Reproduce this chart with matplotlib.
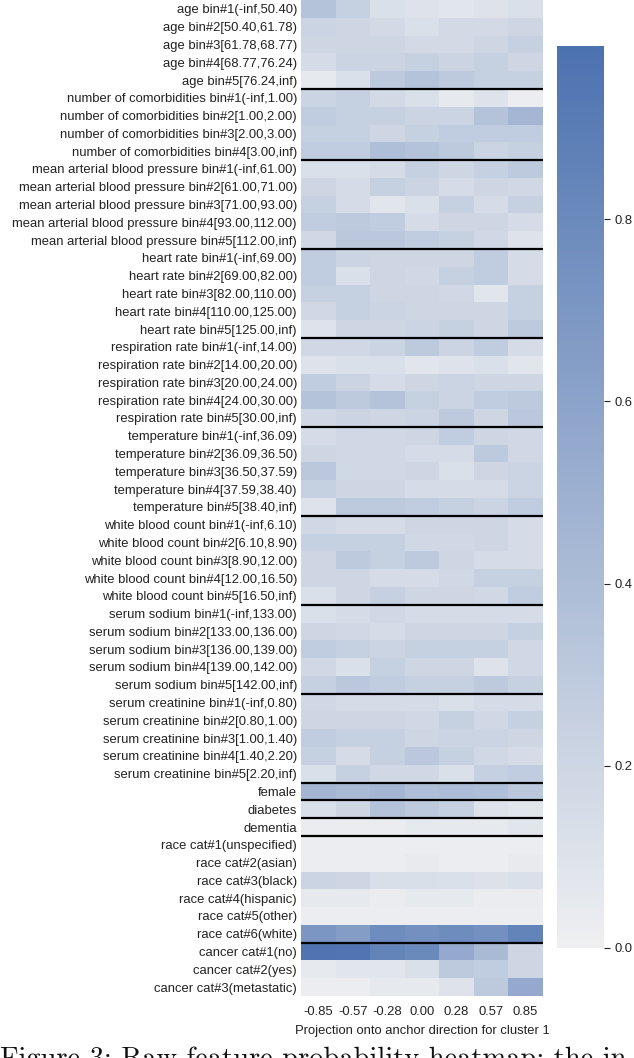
import numpy as np
import matplotlib
matplotlib.use("Agg")
import matplotlib.pyplot as plt
from matplotlib.colors import LinearSegmentedColormap

row_labels = [
    "age bin#1(-inf,50.40)", "age bin#2[50.40,61.78)", "age bin#3[61.78,68.77)",
    "age bin#4[68.77,76.24)", "age bin#5[76.24,inf)",
    "number of comorbidities bin#1(-inf,1.00)", "number of comorbidities bin#2[1.00,2.00)",
    "number of comorbidities bin#3[2.00,3.00)", "number of comorbidities bin#4[3.00,inf)",
    "mean arterial blood pressure bin#1(-inf,61.00)", "mean arterial blood pressure bin#2[61.00,71.00)",
    "mean arterial blood pressure bin#3[71.00,93.00)", "mean arterial blood pressure bin#4[93.00,112.00)",
    "mean arterial blood pressure bin#5[112.00,inf)",
    "heart rate bin#1(-inf,69.00)", "heart rate bin#2[69.00,82.00)", "heart rate bin#3[82.00,110.00)",
    "heart rate bin#4[110.00,125.00)", "heart rate bin#5[125.00,inf)",
    "respiration rate bin#1(-inf,14.00)", "respiration rate bin#2[14.00,20.00)",
    "respiration rate bin#3[20.00,24.00)", "respiration rate bin#4[24.00,30.00)",
    "respiration rate bin#5[30.00,inf)",
    "temperature bin#1(-inf,36.09)", "temperature bin#2[36.09,36.50)", "temperature bin#3[36.50,37.59)",
    "temperature bin#4[37.59,38.40)", "temperature bin#5[38.40,inf)",
    "white blood count bin#1(-inf,6.10)", "white blood count bin#2[6.10,8.90)",
    "white blood count bin#3[8.90,12.00)", "white blood count bin#4[12.00,16.50)",
    "white blood count bin#5[16.50,inf)",
    "serum sodium bin#1(-inf,133.00)", "serum sodium bin#2[133.00,136.00)",
    "serum sodium bin#3[136.00,139.00)", "serum sodium bin#4[139.00,142.00)",
    "serum sodium bin#5[142.00,inf)",
    "serum creatinine bin#1(-inf,0.80)", "serum creatinine bin#2[0.80,1.00)",
    "serum creatinine bin#3[1.00,1.40)", "serum creatinine bin#4[1.40,2.20)",
    "serum creatinine bin#5[2.20,inf)",
    "female", "diabetes", "dementia",
    "race cat#1(unspecified)", "race cat#2(asian)", "race cat#3(black)",
    "race cat#4(hispanic)", "race cat#5(other)", "race cat#6(white)",
    "cancer cat#1(no)", "cancer cat#2(yes)", "cancer cat#3(metastatic)",
]

col_labels = ["-0.85", "-0.57", "-0.28", "0.00", "0.28", "0.57", "0.85"]

# group boundaries (row index after which a separating line is drawn)
group_breaks = [5, 9, 14, 19, 24, 29, 34, 39, 44, 45, 46, 47, 53]

age = [
    [0.35, 0.25, 0.12, 0.10, 0.08, 0.10, 0.12],
    [0.22, 0.20, 0.17, 0.12, 0.17, 0.17, 0.20],
    [0.20, 0.20, 0.20, 0.17, 0.17, 0.20, 0.25],
    [0.15, 0.22, 0.22, 0.25, 0.22, 0.25, 0.20],
    [0.05, 0.12, 0.30, 0.35, 0.30, 0.25, 0.25],
]
comorbidities = [
    [0.22, 0.25, 0.17, 0.12, 0.05, 0.10, 0.02],
    [0.28, 0.25, 0.25, 0.22, 0.22, 0.35, 0.45],
    [0.25, 0.25, 0.20, 0.25, 0.28, 0.28, 0.28],
    [0.28, 0.28, 0.38, 0.35, 0.30, 0.22, 0.25],
]
map_bp = [
    [0.12, 0.12, 0.15, 0.25, 0.20, 0.25, 0.30],
    [0.20, 0.15, 0.25, 0.22, 0.15, 0.20, 0.18],
    [0.25, 0.15, 0.08, 0.12, 0.25, 0.15, 0.25],
    [0.28, 0.30, 0.28, 0.15, 0.20, 0.20, 0.15],
    [0.18, 0.32, 0.32, 0.28, 0.25, 0.18, 0.10],
]
heart_rate = [
    [0.28, 0.22, 0.20, 0.20, 0.20, 0.28, 0.15],
    [0.28, 0.12, 0.20, 0.18, 0.25, 0.28, 0.15],
    [0.25, 0.25, 0.20, 0.20, 0.18, 0.08, 0.25],
    [0.18, 0.25, 0.22, 0.20, 0.20, 0.20, 0.25],
    [0.10, 0.20, 0.20, 0.22, 0.25, 0.20, 0.30],
]
resp_rate = [
    [0.18, 0.18, 0.22, 0.30, 0.22, 0.28, 0.15],
    [0.10, 0.12, 0.12, 0.08, 0.10, 0.12, 0.08],
    [0.28, 0.22, 0.15, 0.20, 0.22, 0.20, 0.20],
    [0.35, 0.30, 0.35, 0.25, 0.22, 0.28, 0.30],
    [0.18, 0.22, 0.20, 0.22, 0.30, 0.20, 0.32],
]
temperature = [
    [0.15, 0.18, 0.18, 0.20, 0.28, 0.20, 0.18],
    [0.20, 0.18, 0.18, 0.15, 0.15, 0.30, 0.18],
    [0.32, 0.18, 0.18, 0.20, 0.12, 0.20, 0.22],
    [0.25, 0.20, 0.20, 0.15, 0.15, 0.15, 0.22],
    [0.10, 0.30, 0.30, 0.28, 0.25, 0.22, 0.28],
]
wbc = [
    [0.18, 0.15, 0.15, 0.20, 0.20, 0.20, 0.15],
    [0.25, 0.25, 0.25, 0.18, 0.18, 0.20, 0.15],
    [0.20, 0.30, 0.25, 0.30, 0.20, 0.15, 0.15],
    [0.20, 0.20, 0.15, 0.15, 0.18, 0.25, 0.25],
    [0.12, 0.20, 0.25, 0.20, 0.20, 0.18, 0.28],
]
sodium = [
    [0.12, 0.15, 0.18, 0.15, 0.15, 0.15, 0.15],
    [0.20, 0.18, 0.15, 0.20, 0.20, 0.20, 0.25],
    [0.28, 0.25, 0.22, 0.25, 0.25, 0.25, 0.18],
    [0.18, 0.12, 0.25, 0.20, 0.20, 0.10, 0.18],
    [0.25, 0.32, 0.28, 0.25, 0.25, 0.30, 0.25],
]
creatinine = [
    [0.18, 0.15, 0.15, 0.15, 0.12, 0.15, 0.15],
    [0.20, 0.20, 0.20, 0.18, 0.25, 0.18, 0.25],
    [0.28, 0.25, 0.25, 0.20, 0.22, 0.22, 0.20],
    [0.25, 0.15, 0.25, 0.32, 0.25, 0.18, 0.15],
    [0.12, 0.25, 0.18, 0.18, 0.12, 0.25, 0.28],
]
female = [[0.45, 0.42, 0.45, 0.38, 0.40, 0.38, 0.32]]
diabetes = [[0.12, 0.20, 0.35, 0.30, 0.25, 0.10, 0.08]]
dementia = [[0.03, 0.03, 0.03, 0.05, 0.05, 0.05, 0.08]]
race = [
    [0.02, 0.02, 0.02, 0.02, 0.02, 0.02, 0.02],
    [0.02, 0.02, 0.02, 0.04, 0.02, 0.02, 0.04],
    [0.22, 0.20, 0.13, 0.13, 0.12, 0.11, 0.12],
    [0.05, 0.05, 0.03, 0.05, 0.05, 0.03, 0.03],
    [0.02, 0.02, 0.02, 0.02, 0.02, 0.02, 0.02],
    [0.70, 0.65, 0.78, 0.75, 0.78, 0.75, 0.85],
]
cancer = [
    [0.97, 0.96, 0.85, 0.80, 0.55, 0.42, 0.20],
    [0.05, 0.08, 0.08, 0.12, 0.30, 0.28, 0.20],
    [0.02, 0.02, 0.05, 0.05, 0.10, 0.30, 0.55],
]

data = np.array(age + comorbidities + map_bp + heart_rate + resp_rate + temperature
                + wbc + sodium + creatinine + female + diabetes + dementia + race + cancer)

cmap = LinearSegmentedColormap.from_list("lightblue", ["#eeeff1", "#4c72b0"])

fig = plt.figure(figsize=(6.34, 10.58), dpi=100)
ax = fig.add_axes([0.475, 0.0586, 0.381, 0.9414])
cax = fig.add_axes([0.8785, 0.104, 0.074, 0.8525])

nrows, ncols = data.shape
mesh = ax.pcolormesh(np.arange(ncols + 1), np.arange(nrows + 1), data, cmap=cmap,
                     vmin=0.0, vmax=0.99)
ax.set_xlim(0, ncols)
ax.set_ylim(nrows, 0)
for b in group_breaks:
    ax.axhline(b, color="black", lw=1.6)

font = "Liberation Sans"
fs = 9.4
ax.set_yticks(np.arange(nrows) + 0.5)
ax.set_yticklabels(row_labels, fontsize=fs, family=font, color="#222222")
ax.set_xticks(np.arange(ncols) + 0.5)
ax.set_xticklabels(col_labels, fontsize=fs, family=font, color="#222222")
ax.tick_params(length=0, pad=3)
ax.tick_params(axis="x", pad=7)
ax.set_xlabel("Projection onto anchor direction for cluster 1", fontsize=fs,
              family=font, color="#222222", labelpad=5)
for s in ax.spines.values():
    s.set_visible(False)

cb = fig.colorbar(mesh, cax=cax)
cb.outline.set_visible(False)
cb.set_ticks([0.0, 0.2, 0.4, 0.6, 0.8])
cb.ax.tick_params(labelsize=fs, length=4, width=0.8, color="#222222", labelcolor="#222222")
for t in cb.ax.get_yticklabels():
    t.set_family(font)

fig.text(0.0, 0.0105, "Figure 3: Raw feature probability heatmap; the in", family="cmr10",
         fontsize=20.5, va="top", ha="left", color="#111111")

fig.savefig("out.png", dpi=100)
